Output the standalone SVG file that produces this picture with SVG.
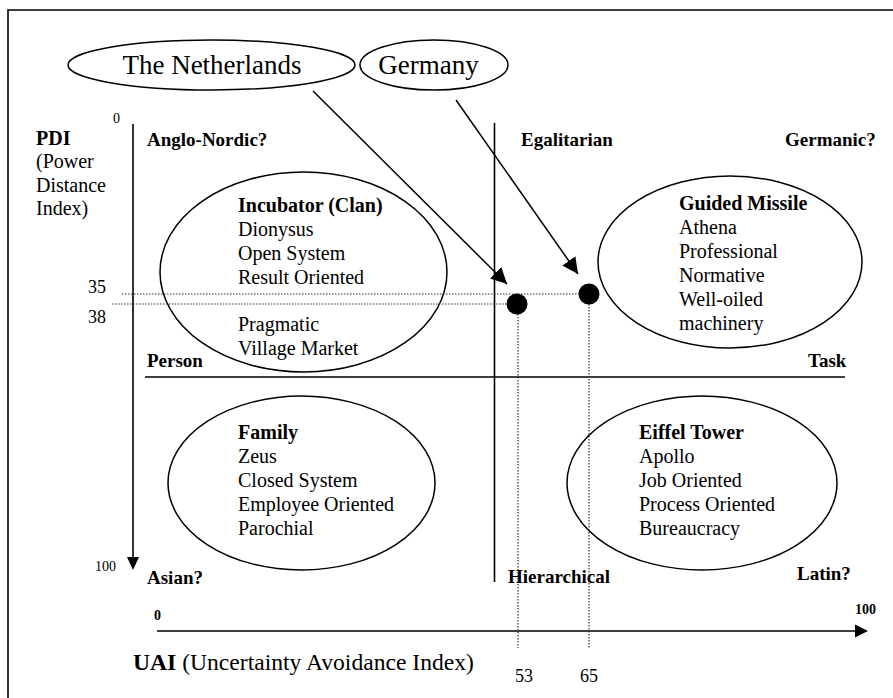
<svg xmlns="http://www.w3.org/2000/svg" width="893" height="698" viewBox="0 0 893 698">
  <style>
    text { font-family: "Liberation Serif", "Times New Roman", serif; fill: #000; }
    .body { font-size: 20px; }
    .head { font-size: 20px; font-weight: bold; }
    .corner { font-size: 19px; font-weight: bold; }
    .country { font-size: 27px; }
    .tick { font-size: 14px; }
    .num { font-size: 18px; }
    .shape { fill: none; stroke: #000; stroke-width: 1.5; }
    .axis { fill: none; stroke: #000; stroke-width: 1.6; }
    .dot-line { fill: none; stroke: #333; stroke-width: 1.2; stroke-dasharray: 1.5 1.5; }
  </style>
  <defs>
    <marker id="arrow" viewBox="0 0 10 10" refX="10" refY="5" markerWidth="16" markerHeight="16" markerUnits="userSpaceOnUse" orient="auto">
      <path d="M0,0 L10,5 L0,10 z" fill="#000"/>
    </marker>
  </defs>
  <rect width="893" height="698" fill="#fff"/>

  <!-- frame (top and left edges) -->
  <path class="axis" d="M8,698 V10 H893"/>

  <!-- axes and dividers -->
  <g id="axes">
    <line class="axis" x1="133" y1="124" x2="133" y2="558"/>
    <path d="M127,557 L139,557 L133,570 z" fill="#000"/>
    <line class="axis" x1="157" y1="631" x2="856" y2="631"/>
    <path d="M855,624.5 L868,631 L855,637.5 z" fill="#000"/>
    <line class="axis" x1="494.5" y1="123" x2="494.5" y2="582"/>
    <line class="axis" x1="145" y1="377" x2="845" y2="377"/>
    <text class="tick" x="113" y="123">0</text>
    <text class="tick" x="95" y="571">100</text>
    <text class="tick" x="154" y="620" font-weight="bold">0</text>
    <text class="tick" x="855" y="614" font-weight="bold">100</text>
  </g>

  <!-- axis titles -->
  <g id="pdi-title">
    <text class="head" x="36" y="145">PDI</text>
    <text class="body" x="36" y="168">(Power</text>
    <text class="body" x="36" y="192">Distance</text>
    <text class="body" x="36" y="215">Index)</text>
  </g>
  <g id="uai-title">
    <text x="133" y="670" font-size="23.6"><tspan font-weight="bold">UAI</tspan> (Uncertainty Avoidance Index)</text>
  </g>

  <!-- quadrant labels -->
  <g id="quadrant-labels">
    <text class="corner" x="147" y="146">Anglo-Nordic?</text>
    <text class="corner" x="521" y="146">Egalitarian</text>
    <text class="corner" x="785" y="146">Germanic?</text>
    <text class="corner" x="147" y="367">Person</text>
    <text class="corner" x="808" y="367">Task</text>
    <text class="corner" x="147" y="584">Asian?</text>
    <text class="corner" x="508" y="583">Hierarchical</text>
    <text class="corner" x="797" y="580">Latin?</text>
  </g>

  <!-- culture ellipses -->
  <g id="incubator">
    <ellipse class="shape" cx="303.5" cy="272" rx="143.5" ry="100"/>
    <text class="head" x="238" y="212">Incubator (Clan)</text>
    <text class="body" x="238" y="236">Dionysus</text>
    <text class="body" x="238" y="260">Open System</text>
    <text class="body" x="238" y="284">Result Oriented</text>
    <text class="body" x="238" y="331">Pragmatic</text>
    <text class="body" x="238" y="355">Village Market</text>
  </g>
  <g id="guided-missile">
    <ellipse class="shape" cx="730" cy="262" rx="132" ry="86"/>
    <text class="head" x="679" y="210">Guided Missile</text>
    <text class="body" x="679" y="234">Athena</text>
    <text class="body" x="679" y="258">Professional</text>
    <text class="body" x="679" y="282">Normative</text>
    <text class="body" x="679" y="306">Well-oiled</text>
    <text class="body" x="679" y="330">machinery</text>
  </g>
  <g id="family">
    <ellipse class="shape" cx="301.5" cy="483" rx="133.5" ry="87"/>
    <text class="head" x="238" y="439">Family</text>
    <text class="body" x="238" y="463">Zeus</text>
    <text class="body" x="238" y="487">Closed System</text>
    <text class="body" x="238" y="511">Employee Oriented</text>
    <text class="body" x="238" y="535">Parochial</text>
  </g>
  <g id="eiffel-tower">
    <ellipse class="shape" cx="702" cy="483" rx="135" ry="87"/>
    <text class="head" x="639" y="439">Eiffel Tower</text>
    <text class="body" x="639" y="463">Apollo</text>
    <text class="body" x="639" y="487">Job Oriented</text>
    <text class="body" x="639" y="511">Process Oriented</text>
    <text class="body" x="639" y="535">Bureaucracy</text>
  </g>

  <!-- countries -->
  <g id="netherlands">
    <ellipse class="shape" cx="211.5" cy="65" rx="143.5" ry="25"/>
    <text class="country" x="212" y="74" text-anchor="middle">The Netherlands</text>
  </g>
  <g id="germany">
    <ellipse class="shape" cx="434" cy="65" rx="74" ry="25"/>
    <text class="country" x="428.5" y="74" text-anchor="middle" font-size="29">Germany</text>
  </g>

  <!-- data points with projections -->
  <g id="point-netherlands">
    <line class="dot-line" x1="112" y1="304" x2="507" y2="304"/>
    <line class="dot-line" x1="518" y1="314" x2="518" y2="648"/>
    <circle cx="517" cy="304" r="10.5" fill="#000"/>
    <text class="num" x="88" y="323">38</text>
    <text class="num" x="515" y="682">53</text>
  </g>
  <g id="point-germany">
    <line class="dot-line" x1="122" y1="294" x2="579" y2="294"/>
    <line class="dot-line" x1="589" y1="304" x2="589" y2="648"/>
    <circle cx="589" cy="294" r="10.5" fill="#000"/>
    <text class="num" x="88" y="293">35</text>
    <text class="num" x="580" y="682">65</text>
  </g>

  <!-- connectors -->
  <g id="connectors">
    <line class="shape" x1="313" y1="91" x2="507" y2="284" marker-end="url(#arrow)"/>
    <line class="shape" x1="456" y1="100" x2="578" y2="274" marker-end="url(#arrow)"/>
  </g>
</svg>
